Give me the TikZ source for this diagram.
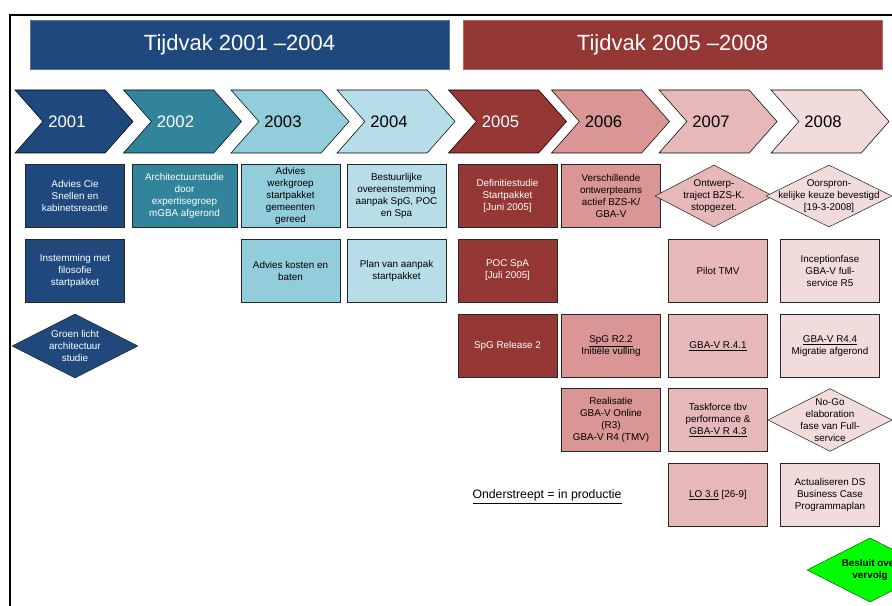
\documentclass[tikz,border=0pt]{standalone}
\usepackage{fontspec}
\setmainfont{Liberation Sans}
\usetikzlibrary{shapes.geometric,shapes.symbols}
\definecolor{c2001}{HTML}{1F497D}
\definecolor{c2002}{HTML}{31849B}
\definecolor{c2003}{HTML}{92CDDC}
\definecolor{c2004}{HTML}{B6DDE8}
\definecolor{c2005}{HTML}{953735}
\definecolor{c2006}{HTML}{D99694}
\definecolor{c2007}{HTML}{E6B9B8}
\definecolor{c2008}{HTML}{F2DCDB}
\definecolor{besluit}{HTML}{00FF00}
\begin{document}
\begin{tikzpicture}
    [x=0.75pt,y=-0.75pt,
     bar/.style={draw=#1!75!white,fill=#1,text=white,minimum width=314pt,
       minimum height=36.75pt,font=\fontsize{16.5}{18}\selectfont},
     chev/.style={shape=signal,signal from=west,signal to=east,
       signal pointer angle=97,draw=black,fill=#1,minimum width=88.5pt,
       minimum height=47.25pt,inner sep=0pt,font=\fontsize{12.5}{14}\selectfont,
       execute at end node={\hspace*{10.5pt}}},
     box/.style={draw=black!85,fill=#1,minimum width=74pt,minimum height=47.5pt,
       inner sep=1pt,align=center,font=\fontsize{7.4}{9}\selectfont},
     dia/.style={shape=diamond,draw=black!85,fill=#1,minimum width=93pt,
       minimum height=47pt,inner sep=0pt},
     dtext/.style={align=center,font=\fontsize{7.4}{9}\selectfont}]
    \useasboundingbox (0,0) rectangle (892,606);
    \draw [line width=1.5pt] (892,15) -- (10,15) -- (10,606);
    % periods
    \node [bar=c2001] (tA) at (239.5,44.5) {Tijdvak 2001 –2004};
    \node [bar=c2005] (tB) at (672.5,44.5) {Tijdvak 2005 –2008};
    % years
    \node [chev=c2001,text=white] (y1) at (74,121.5) {2001};
    \node [chev=c2002,text=white] (y2) at (182.5,121.5) {2002};
    \node [chev=c2003] (y3) at (290,121.5) {2003};
    \node [chev=c2004] (y4) at (396,121.5) {2004};
    \node [chev=c2005,text=white] (y5) at (507.5,121.5) {2005};
    \node [chev=c2006] (y6) at (610.5,121.5) {2006};
    \node [chev=c2007] (y7) at (718,121.5) {2007};
    \node [chev=c2008] (y8) at (830,121.5) {2008};
    % 2001 - 2004
    \node [box=c2001,text=white] (a1) at (75,195.5)
      {Advies Cie\\Snellen en\\kabinetsreactie};
    \node [box=c2001,text=white] (a2) at (75,270.5)
      {Instemming met\\filosofie\\startpakket};
    \node [dia=c2001,minimum width=94.5pt,minimum height=48pt] (groen) at (75,346)
      [label={[dtext,text=white]center:{Groen licht\\architectuur\\studie}}] {};
    \node [box=c2002,text=white,minimum width=79pt] (b1) at (184.5,195.5)
      {Architectuurstudie\\door\\expertisegroep\\mGBA afgerond};
    \node [box=c2003] (c1) at (290.5,195.5)
      {Advies\\werkgroep\\startpakket\\gemeenten\\gereed};
    \node [box=c2003] (c2) at (290.5,270.5) {Advies kosten en\\baten};
    \node [box=c2004] (d1) at (396.5,195.5)
      {Bestuurlijke\\overeenstemming\\aanpak SpG, POC\\en Spa};
    \node [box=c2004] (d2) at (396.5,270.5) {Plan van aanpak\\startpakket};
    % 2005 - 2008
    \node [box=c2005,text=white] (e1) at (507.5,195.5)
      {Definitiestudie\\Startpakket\\{[Juni 2005]}};
    \node [box=c2005,text=white] (e2) at (507.5,270.5) {POC SpA\\{[Juli 2005]}};
    \node [box=c2005,text=white] (e3) at (507.5,346) {SpG Release 2};
    \node [box=c2006] (f1) at (611,195.5)
      {Verschillende\\ontwerpteams\\actief BZS-K/\\GBA-V};
    \node [box=c2006] (f3) at (611,346) {\underline{SpG R2.2}\\Initiële vulling};
    \node [box=c2006] (f4) at (611,420)
      {Realisatie\\GBA-V Online\\(R3)\\GBA-V R4 (TMV)};
    \node [box=c2007] (g2) at (718,270.5) {Pilot TMV};
    \node [box=c2007] (g3) at (718,346) {\underline{GBA-V R.4.1}};
    \node [box=c2007] (g4) at (718,420)
      {Taskforce tbv\\performance \&\\\underline{GBA-V R 4.3}};
    \node [box=c2007] (g5) at (718,495) {\underline{LO 3.6} [26-9]};
    \node [box=c2008] (h2) at (830,270.5)
      {Inceptionfase\\GBA-V full-\\service R5};
    \node [box=c2008] (h3) at (830,346)
      {\underline{GBA-V R4.4}\\Migratie afgerond};
    \node [box=c2008] (h5) at (830,495)
      {Actualiseren DS\\Business Case\\Programmaplan};
    \node [dia=c2007,minimum width=88.5pt,minimum height=46.5pt] (ontwerp) at (714,196)
      [label={[dtext]center:{Ontwerp-\\traject BZS-K.\\stopgezet.}}] {};
    \node [dia=c2008,minimum width=94.5pt,minimum height=46.5pt] (oorspron) at (829,196)
      [label={[dtext]center:{Oorspron-\\kelijke keuze bevestigd\\{[19-3-2008]}}}] {};
    \node [dia=c2008] (nogo) at (830,420)
      [label={[dtext]center:{No-Go\\elaboration\\fase van Full-\\service}}] {};
    \node [dia=besluit,draw=black!60!green,minimum width=94.5pt,minimum height=48pt]
      (besluit) at (870,570)
      [label={[dtext,font=\fontsize{7.4}{9}\selectfont\bfseries]center:{Besluit over\\vervolg}}] {};
    % legend
    \node [font=\fontsize{9.2}{11}\selectfont] (legend) at (547,497)
      {\underline{Onderstreept = in productie}};
  \end{tikzpicture}
\end{document}
